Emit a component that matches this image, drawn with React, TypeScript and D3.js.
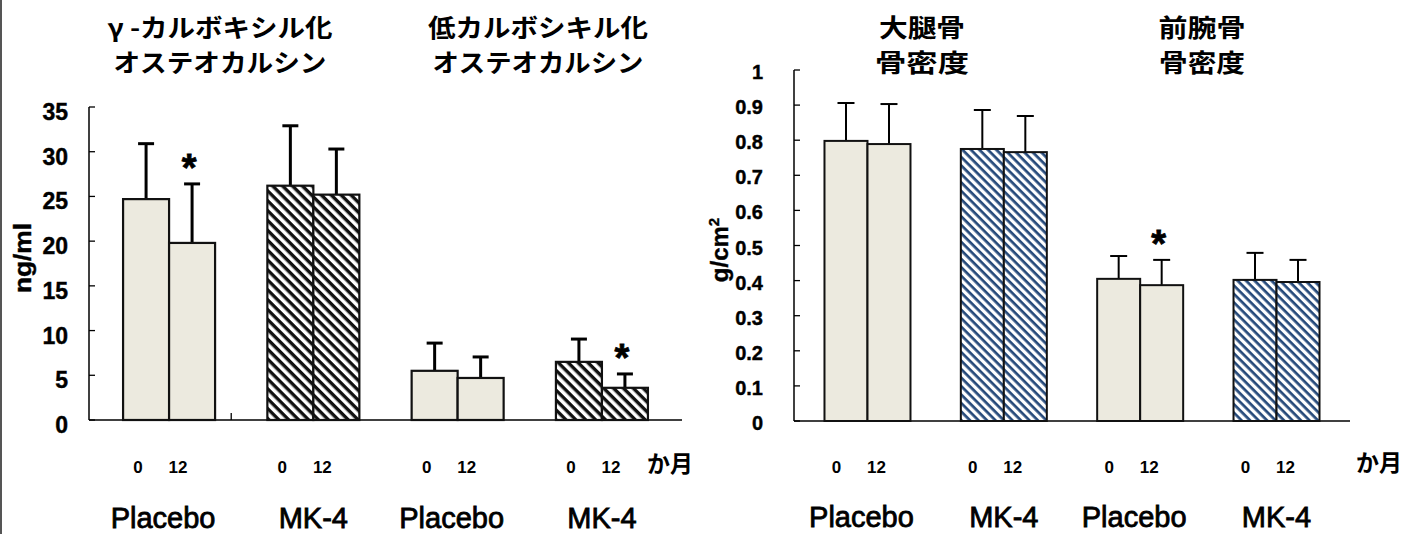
import React from 'react';
import * as d3 from 'd3';

// ---------- data ----------
const groupLabels = ['Placebo', 'MK-4', 'Placebo', 'MK-4'];
const timeLabels = ['0', '12'];
const monthUnit = 'か月';

const leftTitles = [
  ['γ -カルボキシル化', 'オステオカルシン'],
  ['低カルボシキル化', 'オステオカルシン'],
];
const rightTitles = [
  ['大腿骨', '骨密度'],
  ['前腕骨', '骨密度'],
];

const leftTicks = [0, 5, 10, 15, 20, 25, 30, 35];
const rightTicks = [0, 0.1, 0.2, 0.3, 0.4, 0.5, 0.6, 0.7, 0.8, 0.9, 1];

// Osteocalcin (ng/ml): [0 month, 12 months]
const gammaPlaceboMean = [24.7, 19.8];
const gammaPlaceboSD = [6.2, 6.6];
const gammaMK4Mean = [26.2, 25.2];
const gammaMK4SD = [6.7, 5.1];
const ucPlaceboMean = [5.5, 4.7];
const ucPlaceboSD = [3.1, 2.35];
const ucMK4Mean = [6.5, 3.6];
const ucMK4SD = [2.55, 1.55];

// Bone mineral density (g/cm2)
const femurPlaceboMean = [0.798, 0.789];
const femurPlaceboSD = [0.108, 0.114];
const femurMK4Mean = [0.775, 0.766];
const femurMK4SD = [0.111, 0.103];
const forearmPlaceboMean = [0.405, 0.387];
const forearmPlaceboSD = [0.065, 0.072];
const forearmMK4Mean = [0.402, 0.396];
const forearmMK4SD = [0.077, 0.063];

// significance markers (*)
const leftSignificant = [[false, true], [false, false], [false, false], [false, true]];
const rightSignificant = [[false, false], [false, false], [false, true], [false, false]];

// ---------- layout ----------
const W = 1409;
const H = 534;
const JP = '"Noto Sans CJK JP", "Noto Sans CJK SC", sans-serif';
const AR = '"Liberation Sans", Arial, sans-serif';
const BEIGE = '#ECEADF';

type Group = { mean: number[]; sd: number[]; sig: boolean[]; hatch: boolean };

const leftGroups: Group[] = [
  { mean: gammaPlaceboMean, sd: gammaPlaceboSD, sig: leftSignificant[0], hatch: false },
  { mean: gammaMK4Mean, sd: gammaMK4SD, sig: leftSignificant[1], hatch: true },
  { mean: ucPlaceboMean, sd: ucPlaceboSD, sig: leftSignificant[2], hatch: false },
  { mean: ucMK4Mean, sd: ucMK4SD, sig: leftSignificant[3], hatch: true },
];
const rightGroups: Group[] = [
  { mean: femurPlaceboMean, sd: femurPlaceboSD, sig: rightSignificant[0], hatch: false },
  { mean: femurMK4Mean, sd: femurMK4SD, sig: rightSignificant[1], hatch: true },
  { mean: forearmPlaceboMean, sd: forearmPlaceboSD, sig: rightSignificant[2], hatch: false },
  { mean: forearmMK4Mean, sd: forearmMK4SD, sig: rightSignificant[3], hatch: true },
];

type PanelProps = {
  groups: Group[];
  x0: number;
  x1: number;
  y0: number;
  y1: number;
  yMax: number;
  ticks: number[];
  tickFont: number;
  labelRight: number;
  tickDy: number;
  pad: number;
  barW: number;
  hatchId: string;
  errW: number;
  capW: number;
  barStroke: number;
  sepTick: boolean;
  catBaseline: number;
};

function Panel(p: PanelProps) {
  const y = d3.scaleLinear().domain([0, p.yMax]).range([p.y0, p.y1]);
  const xg = d3
    .scalePoint<number>()
    .domain(d3.range(p.groups.length))
    .range([p.x0, p.x1])
    .padding(p.pad);
  const xi = d3.scaleBand<string>().domain(timeLabels).range([-p.barW, p.barW]);
  const fmt = (v: number) => d3.format('~g')(v);
  return (
    <g>
      {/* axes */}
      <line x1={p.x0} x2={p.x0} y1={p.y1} y2={p.y0} stroke="#000" strokeWidth={1.5} />
      <line x1={p.x0} x2={p.x1} y1={p.y0} y2={p.y0} stroke="#000" strokeWidth={1.5} />
      {p.ticks.map((t) => (
        <g key={t}>
          <line x1={p.x0} x2={p.x0 + 6} y1={y(t)} y2={y(t)} stroke="#000" strokeWidth={1.3} />
          <text
            x={p.labelRight}
            y={y(t) + p.tickDy}
            textAnchor="end"
            dominantBaseline="central"
            fontFamily={AR}
            fontWeight="bold"
            fontSize={p.tickFont}
            stroke="#000"
            strokeWidth={0.4}
          >
            {fmt(t)}
          </text>
        </g>
      ))}
      {p.sepTick && (
        <line
          x1={(xg(0)! + xg(1)!) / 2 - 10}
          x2={(xg(0)! + xg(1)!) / 2 - 10}
          y1={p.y0 - 7}
          y2={p.y0}
          stroke="#000"
          strokeWidth={1.3}
        />
      )}
      {/* bars */}
      {p.groups.map((g, gi) =>
        g.mean.map((m, i) => {
          const bx = xg(gi)! + xi(timeLabels[i])!;
          const bw = xi.bandwidth();
          const cx = bx + bw / 2;
          const top = y(m);
          const et = y(m + g.sd[i]);
          return (
            <g key={gi + '-' + i}>
              <line x1={cx} x2={cx} y1={top} y2={et} stroke="#000" strokeWidth={p.errW} />
              <line x1={cx - p.capW / 2} x2={cx + p.capW / 2} y1={et} y2={et} stroke="#000" strokeWidth={p.errW} />
              <rect
                x={bx}
                y={top}
                width={bw}
                height={p.y0 - top}
                fill={g.hatch ? `url(#${p.hatchId})` : BEIGE}
                stroke="#111"
                strokeWidth={p.barStroke}
              />
              {g.sig[i] && (
                <text
                  x={cx - 3}
                  y={et - 28}
                  textAnchor="middle"
                  dominantBaseline="central"
                  fontFamily={AR}
                  fontWeight="bold"
                  fontSize={38}
                  dy={12}
                  stroke="#000"
                  strokeWidth={0.8}
                >
                  *
                </text>
              )}
            </g>
          );
        })
      )}
      {/* time labels */}
      {p.groups.map((g, gi) => (
        <g key={'t' + gi}>
          <text x={xg(gi)! - 31} y={473} textAnchor="middle" fontFamily={AR} fontWeight="bold" fontSize={17}>
            {timeLabels[0]}
          </text>
          <text x={xg(gi)! + 9} y={473} textAnchor="middle" fontFamily={AR} fontWeight="bold" fontSize={17}>
            {timeLabels[1]}
          </text>
          <text
            x={xg(gi)! - (gi % 2 === 0 ? 6 : 0)}
            y={p.catBaseline}
            textAnchor="middle"
            fontFamily={AR}
            fontSize={29}
            stroke="#000"
            strokeWidth={0.8}
          >
            {groupLabels[gi]}
          </text>
        </g>
      ))}
    </g>
  );
}

function Title({ lines, cx, widths }: { lines: string[]; cx: number; widths: number[] }) {
  return (
    <g>
      {lines.map((l, i) => (
        <text
          key={i}
          x={cx}
          y={26 + i * 35}
          textAnchor="middle"
          dominantBaseline="central"
          fontFamily={JP}
          fontWeight="bold"
          fontSize={25}
          textLength={widths[i]}
          lengthAdjust="spacingAndGlyphs"
        >
          {l}
        </text>
      ))}
    </g>
  );
}

export default function App() {
  return (
    <svg
      width={W}
      height={H}
      viewBox={`0 0 ${W} ${H}`}
      style={{ position: 'absolute', left: 0, top: 0, background: '#fff' }}
    >
      <defs>
        <pattern id="hatchBlack" patternUnits="userSpaceOnUse" width={7} height={7} patternTransform="rotate(45)">
          <rect width={7} height={7} fill="#fff" />
          <rect width={7} height={3.4} fill="#111" />
        </pattern>
        <pattern id="hatchNavy" patternUnits="userSpaceOnUse" width={6} height={6} patternTransform="rotate(45)">
          <rect width={6} height={6} fill="#fff" />
          <rect width={6} height={2.7} fill="#25497a" />
        </pattern>
      </defs>
      <rect width={W} height={H} fill="#fff" />
      <line x1={1} x2={1} y1={0} y2={H} stroke="#555" strokeWidth={2} />

      {/* left titles */}
      <Title lines={leftTitles[0]} cx={220} widths={[225, 213]} />
      <Title lines={leftTitles[1]} cx={538} widths={[220, 211]} />
      {/* right titles */}
      <Title lines={rightTitles[0]} cx={922} widths={[86, 94]} />
      <Title lines={rightTitles[1]} cx={1202} widths={[87, 86]} />

      {/* left panel */}
      <Panel
        groups={leftGroups}
        x0={89}
        x1={682}
        y0={420}
        y1={107}
        yMax={35}
        ticks={leftTicks}
        tickFont={23}
        labelRight={68}
        tickDy={5}
        pad={0.555}
        barW={46}
        hatchId="hatchBlack"
        errW={3}
        capW={16}
        barStroke={2.2}
        sepTick={true}
        catBaseline={528}
      />
      <text
        transform="translate(31,258) rotate(-90)"
        textAnchor="middle"
        fontFamily={AR}
        fontWeight="bold"
        fontSize={23}
        textLength={70}
        lengthAdjust="spacingAndGlyphs"
        stroke="#000"
        strokeWidth={0.4}
      >
        ng/ml
      </text>
      <text x={670} y={462} textAnchor="middle" dominantBaseline="central" fontFamily={JP} fontWeight="bold" fontSize={23}>
        {monthUnit}
      </text>

      {/* right panel */}
      <Panel
        groups={rightGroups}
        x0={794}
        x1={1350}
        y0={421}
        y1={70}
        yMax={1}
        ticks={rightTicks}
        tickFont={20}
        labelRight={763}
        tickDy={2}
        pad={0.539}
        barW={43}
        hatchId="hatchNavy"
        errW={2}
        capW={17}
        barStroke={2}
        sepTick={false}
        catBaseline={527}
      />
      <text
        transform="translate(728,250) rotate(-90)"
        textAnchor="middle"
        fontFamily={AR}
        fontWeight="bold"
        fontSize={24}
        stroke="#000"
        strokeWidth={0.4}
      >
        g/cm<tspan dy={-9} fontSize={15}>2</tspan>
      </text>
      <text x={1379} y={461} textAnchor="middle" dominantBaseline="central" fontFamily={JP} fontWeight="bold" fontSize={23}>
        {monthUnit}
      </text>
    </svg>
  );
}
